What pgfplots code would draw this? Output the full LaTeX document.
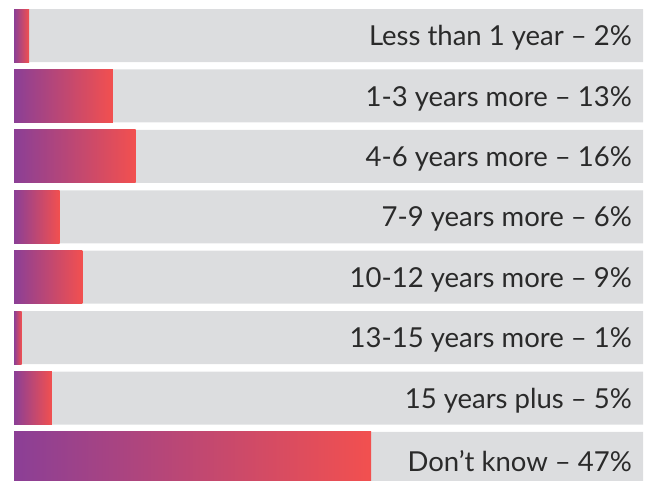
\documentclass[border=0pt]{standalone}
\usepackage{pgfplots}
\pgfplotsset{compat=1.18}
\usepackage{fontspec}
\setmainfont{Lato}
\definecolor{purp}{HTML}{8B3F96}
\definecolor{coral}{HTML}{F2504F}
\definecolor{track}{HTML}{DCDDDF}
\definecolor{txt}{HTML}{2A2A2A}
\begin{document}
\begin{tikzpicture}[x=1pt,y=1pt]
\useasboundingbox (0,0) rectangle (646,481);
\begin{axis}[
 at={(14pt,-7.7pt)}, anchor=south west,
 scale only axis, width=629pt, height=483.4pt,
 xmin=0, xmax=82.8, ymin=-0.5, ymax=7.5, y dir=reverse,
 hide axis, clip=false,
 xbar, bar width=53pt, bar shift=0pt,
 grad/.style={draw=none, left color=purp, right color=coral},
]
\addplot[draw=none, fill=track, point meta=explicit symbolic, nodes near coords,
  nodes near coords style={anchor=east, xshift=-11pt, yshift=-2.5pt, inner sep=0pt, font=\fontsize{27.5}{32}\selectfont, text=txt}]
  coordinates {
  (82.8,0) [Less than 1 year – 2\%]
  (82.8,1) [1-3 years more – 13\%]
  (82.8,2) [4-6 years more – 16\%]
  (82.8,3) [7-9 years more – 6\%]
  (82.8,4) [10-12 years more – 9\%]
  (82.8,5) [13-15 years more – 1\%]
  (82.8,6) [15 years plus – 5\%]
  (82.8,7) [Don’t know – 47\%]
  };
\addplot[grad] coordinates {(2,0)};
\addplot[grad] coordinates {(13,1)};
\addplot[grad] coordinates {(16,2)};
\addplot[grad] coordinates {(6,3)};
\addplot[grad] coordinates {(9,4)};
\addplot[grad] coordinates {(1,5)};
\addplot[grad] coordinates {(5,6)};
\addplot[grad] coordinates {(47,7)};
\end{axis}
\end{tikzpicture}
\end{document}
